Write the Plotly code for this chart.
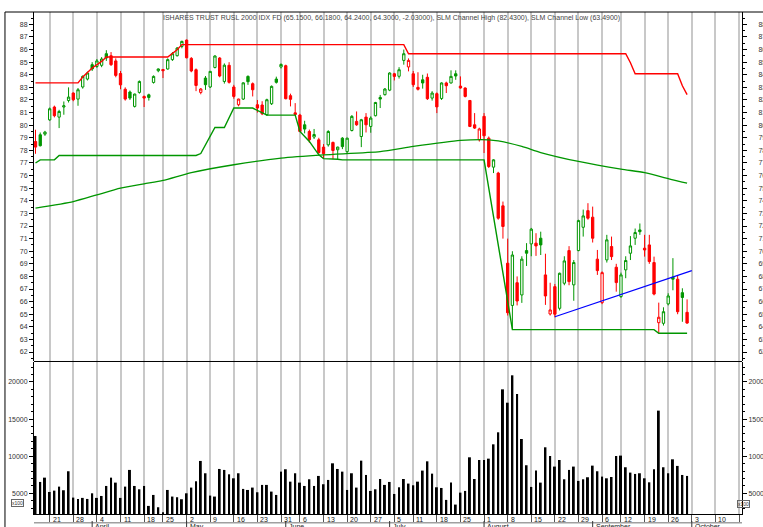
import datetime as dt
import plotly.graph_objects as go

# ---------------- data ----------------
YEAR = 2011
MAR_DAYS = [16, 17, 18, 21, 22, 23, 24, 25, 28, 29, 30, 31]
APR_DAYS = [1, 4, 5, 6, 7, 8, 11, 12, 13, 14, 15, 18, 19, 20, 21, 25, 26, 27, 28, 29]
MAY_DAYS = [2, 3, 4, 5, 6, 9, 10, 11, 12, 13, 16, 17, 18, 19, 20, 23, 24, 25, 26, 27, 31]
JUN_DAYS = [1, 2, 3, 6, 7, 8, 9, 10, 13, 14, 15, 16, 17, 20, 21, 22, 23, 24, 27, 28, 29, 30]
JUL_DAYS = [1, 5, 6, 7, 8, 11, 12, 13, 14, 15, 18, 19, 20, 21, 22, 25, 26, 27, 28, 29]
AUG_DAYS = [1, 2, 3, 4, 5, 8, 9, 10, 11, 12, 15, 16, 17, 18, 19, 22, 23, 24, 25, 26, 29, 30, 31]
SEP_DAYS = [1, 2, 6, 7, 8, 9, 12, 13, 14, 15, 16, 19, 20, 21, 22, 23, 26, 27, 28, 29, 30]
OCT_AXIS_DAYS = [3, 4, 5, 6, 7, 10, 11, 12, 13, 14, 17]
MONTH_NAMES = {4: "April", 5: "May", 6: "June", 7: "July", 8: "August", 9: "September", 10: "October"}

TITLE = ("ISHARES TRUST RUSL 2000 IDX FD (65.1500, 66.1800, 64.2400, 64.3000, -2.03000), "
         "SLM Channel High (82.4300), SLM Channel Low (63.4900)")

PREV_CLOSE = 79.00
OPEN = [78.70, 79.24, 79.29, 80.42, 81.44, 80.64, 81.44, 81.96, 82.55, 82.07,
        83.03, 83.66, 84.80, 84.66, 84.75, 85.67, 85.51, 85.10, 84.10, 82.85,
        82.63, 81.49, 82.60, 82.28, 82.41, 83.39, 84.32, 84.42, 84.46, 85.20,
        85.51, 86.25, 86.75, 85.30, 84.40, 82.60, 83.74, 83.03, 84.58, 85.33,
        83.47, 84.75, 83.03, 81.62, 82.07, 83.87, 83.29, 81.62, 81.60, 80.83,
        81.70, 83.66, 84.62, 84.72, 82.34, 80.98, 80.80, 80.03, 79.50, 79.06,
        78.84, 78.26, 78.44, 78.63, 78.05, 78.97, 77.90, 79.58, 80.30, 79.10,
        80.64, 79.90, 80.75, 82.20, 82.42, 82.78, 84.08, 83.88, 85.14, 84.62,
        84.08, 83.00, 83.60, 83.80, 82.15, 82.50, 82.12, 83.35, 83.35, 84.08,
        83.10, 82.95, 81.96, 80.03, 78.84, 80.70, 78.97, 76.67, 76.20, 73.60,
        69.05, 65.70, 67.50, 66.53, 70.05, 70.58, 70.64, 71.03, 68.12, 65.02,
        67.19, 65.47, 67.46, 70.05, 67.33, 70.05, 71.90, 73.22, 72.70, 69.37,
        65.92, 69.31, 70.37, 68.73, 66.40, 68.52, 69.84, 71.03, 71.69, 70.24,
        70.50, 69.10, 64.33, 64.28, 65.82, 67.94, 67.78, 66.71, 65.15]
HIGH = [79.64, 79.42, 79.55, 81.40, 81.55, 81.22, 81.88, 83.00, 82.60, 82.95,
        83.95, 84.25, 85.00, 85.25, 85.40, 85.95, 85.80, 85.30, 84.30, 83.00,
        82.75, 82.50, 83.55, 82.35, 82.50, 83.95, 84.50, 84.45, 85.30, 85.80,
        86.20, 86.70, 86.80, 85.40, 84.50, 82.95, 83.90, 84.30, 85.55, 85.40,
        84.90, 85.00, 83.20, 82.10, 83.40, 83.95, 83.39, 82.00, 81.90, 82.10,
        83.15, 83.85, 84.90, 84.80, 82.50, 81.75, 80.90, 80.35, 79.65, 79.70,
        79.00, 78.50, 79.60, 78.70, 78.30, 79.05, 79.00, 80.80, 81.09, 80.50,
        80.96, 80.70, 81.85, 82.40, 82.95, 84.20, 84.15, 84.60, 86.00, 85.30,
        84.30, 84.20, 84.00, 84.10, 82.70, 82.60, 83.40, 83.45, 84.35, 84.35,
        83.87, 83.00, 82.00, 80.96, 79.80, 80.96, 79.10, 77.30, 76.30, 73.94,
        71.00, 70.00, 68.00, 69.60, 70.64, 71.85, 71.43, 71.55, 69.80, 67.50,
        67.40, 68.30, 69.60, 70.40, 69.30, 72.50, 73.30, 73.81, 73.54, 70.10,
        68.40, 71.30, 71.16, 69.00, 68.30, 69.60, 71.20, 71.80, 72.20, 71.30,
        71.30, 69.57, 65.92, 65.55, 66.66, 69.45, 68.10, 67.06, 66.18]
LOW = [77.73, 78.31, 79.15, 80.35, 80.62, 79.77, 80.83, 81.80, 81.90, 81.54,
       82.90, 83.55, 84.30, 84.55, 84.60, 85.10, 84.70, 83.80, 82.85, 81.95,
       82.00, 81.40, 82.50, 81.44, 81.95, 83.30, 84.20, 83.74, 84.40, 85.10,
       85.45, 86.10, 85.30, 84.20, 82.70, 82.45, 82.80, 82.95, 84.50, 83.80,
       83.30, 83.30, 82.10, 81.50, 82.00, 83.20, 82.28, 81.00, 80.80, 80.75,
       81.60, 83.30, 84.50, 82.05, 81.49, 80.80, 79.45, 79.35, 78.60, 78.90,
       77.70, 77.40, 78.30, 77.30, 77.25, 78.10, 77.80, 79.50, 79.95, 78.26,
       79.42, 79.40, 80.70, 81.36, 82.35, 82.70, 83.55, 83.70, 84.80, 84.27,
       83.03, 82.75, 82.90, 82.00, 81.95, 80.96, 82.00, 82.55, 83.30, 83.60,
       82.90, 82.20, 79.85, 79.70, 78.70, 77.79, 76.60, 76.20, 72.50, 71.00,
       64.90, 63.80, 65.70, 65.90, 68.83, 69.60, 69.63, 69.70, 65.74, 64.90,
       64.75, 65.30, 67.30, 67.30, 66.07, 70.00, 71.16, 72.50, 70.69, 68.12,
       65.80, 69.10, 69.30, 66.79, 66.30, 67.86, 69.30, 70.50, 71.30, 69.57,
       69.00, 66.50, 63.49, 64.10, 65.70, 66.90, 65.00, 64.40, 64.24]
CLOSE = [78.26, 78.37, 79.45, 81.30, 80.75, 81.09, 81.54, 82.23, 82.02, 82.81,
         83.87, 84.14, 84.46, 85.10, 85.25, 85.33, 84.80, 83.95, 83.20, 82.07,
         82.15, 82.47, 83.47, 82.15, 82.20, 83.87, 84.46, 84.32, 85.20, 85.67,
         86.12, 86.65, 85.35, 84.30, 83.15, 82.87, 83.21, 84.27, 85.49, 83.90,
         84.76, 83.40, 82.28, 82.07, 83.36, 83.45, 82.81, 81.36, 80.90, 82.02,
         83.08, 83.40, 84.82, 82.10, 82.05, 80.85, 79.50, 79.69, 78.84, 79.26,
         77.83, 77.73, 79.50, 77.99, 78.26, 78.30, 78.97, 80.70, 80.03, 80.43,
         80.03, 80.56, 81.80, 82.07, 82.87, 84.14, 83.87, 84.40, 85.67, 85.14,
         83.21, 82.85, 83.35, 82.10, 82.55, 81.45, 83.35, 83.13, 83.87, 83.90,
         82.95, 82.28, 79.90, 79.77, 79.70, 79.16, 76.72, 77.25, 72.62, 71.96,
         65.12, 69.70, 66.05, 69.37, 69.84, 71.75, 70.42, 70.50, 66.45, 65.34,
         65.00, 68.25, 69.23, 67.59, 69.10, 72.43, 72.80, 72.62, 71.03, 68.46,
         68.30, 70.90, 69.57, 67.51, 68.12, 69.26, 70.42, 71.48, 71.55, 70.10,
         69.18, 66.60, 64.76, 65.20, 66.45, 67.78, 65.20, 66.33, 64.30]
VOLUME = [12726, 6530, 7110, 5180, 5360, 5900, 5410, 7970, 4420, 4240,
          4380, 4240, 5000, 4380, 4640, 5990, 7110, 6440, 4380, 5900,
          8150, 5990, 5540, 5990, 3300, 4780, 3120, 2440, 5450, 4560,
          4470, 4200, 5000, 5770, 6620, 9360, 7700, 4690, 4560, 8280,
          8150, 7560, 7020, 7700, 5590, 5450, 5770, 5140, 6130, 6130,
          5230, 4780, 7920, 8240, 6570, 7700, 6440, 5990, 6890, 5990,
          7340, 6220, 6800, 9040, 8280, 7920, 5450, 7700, 5770, 9400,
          7470, 5320, 5540, 6930, 6130, 6530, 4910, 5810, 6930, 6310,
          6080, 6570, 8060, 9310, 7650, 5810, 5720, 4110, 6440, 3480,
          5090, 5320, 9850, 6930, 9490, 9490, 9670, 11600, 13220, 19010,
          17210, 20900, 18380, 12320, 8780, 5860, 8060, 6440, 11200, 10030,
          8600, 9490, 6890, 8150, 8600, 6670, 6890, 7160, 8730, 7970,
          7250, 7020, 7200, 10030, 10080, 8510, 7790, 7610, 7700, 7020,
          6480, 8240, 16140, 8510, 7700, 9580, 8690, 7470, 7340]

# indicator lines (bar index, value)
CH_HIGH_IDX = [0, 9, 10, 12, 14, 15, 28, 29, 30, 31, 78, 79, 125, 126, 127, 136, 137, 138]
CH_HIGH_VAL = [83.36, 83.36, 83.82, 84.54, 85.06, 85.41, 85.41, 85.73, 85.98, 86.39,
               86.39, 85.67, 85.67, 84.95, 84.08, 84.08, 83.13, 82.43]
CH_LOW_IDX = [0, 1, 4, 5, 34, 35, 38, 40, 42, 46, 49, 55, 56, 58, 60, 61, 64, 65,
              95, 101, 131, 132, 138]
CH_LOW_VAL = [77.00, 77.25, 77.25, 77.60, 77.60, 77.75, 79.82, 79.82, 81.36, 81.36,
              80.80, 80.80, 79.50, 78.71, 77.65, 77.35, 77.30, 77.25,
              77.25, 63.78, 63.78, 63.49, 63.49]
MA_IDX = [0, 8, 13, 18, 23, 27, 33, 42, 52, 61, 73, 80, 90, 96, 98, 103, 107,
          115, 124, 129, 135, 138]
MA_VAL = [73.42, 73.94, 74.47, 75.00, 75.35, 75.62, 76.24, 76.86, 77.39, 77.65,
          77.90, 78.31, 78.79, 78.84, 78.75, 78.31, 77.83, 77.12, 76.51, 76.24,
          75.66, 75.40]
TREND_IDX = [110, 139]
TREND_VAL = [64.80, 68.46]

# ---------------- derived axis helpers ----------------
dates = []
for m, days in ((3, MAR_DAYS), (4, APR_DAYS), (5, MAY_DAYS), (6, JUN_DAYS),
                (7, JUL_DAYS), (8, AUG_DAYS), (9, SEP_DAYS)):
    dates += [dt.date(YEAR, m, d) for d in days]
axis_dates = dates + [dt.date(YEAR, 10, d) for d in OCT_AXIS_DAYS]
N = len(CLOSE)
X = list(range(N))

week_starts = [i for i in range(1, len(axis_dates))
               if axis_dates[i].isocalendar()[1] != axis_dates[i - 1].isocalendar()[1]]
month_starts = [i for i in range(1, len(axis_dates))
                if axis_dates[i].month != axis_dates[i - 1].month]

GREEN = "#009600"
RED = "#ff0000"
GRID = "#c8c8c8"
FONT = "Liberation Sans, Arial, sans-serif"
XR = [-0.32, 149.63]
PR = [61.29, 88.98]
VR = [2210, 22695]

prev = [PREV_CLOSE] + CLOSE[:-1]
up = [c >= p for c, p in zip(CLOSE, prev)]


def candles(mask, color):
    idx = [i for i in X if mask[i]]
    return go.Candlestick(
        x=idx, open=[OPEN[i] for i in idx], high=[HIGH[i] for i in idx],
        low=[LOW[i] for i in idx], close=[CLOSE[i] for i in idx],
        increasing=dict(line=dict(color=color, width=1), fillcolor="white"),
        decreasing=dict(line=dict(color=color, width=1), fillcolor=color),
        whiskerwidth=0, xaxis="x", yaxis="y", showlegend=False, hoverinfo="skip")


fig = go.Figure()
fig.add_trace(go.Scatter(x=MA_IDX, y=MA_VAL, mode="lines", line=dict(color=GREEN, width=1.3, shape="spline", smoothing=0.6),
                         xaxis="x", yaxis="y", hoverinfo="skip"))
fig.add_trace(go.Scatter(x=CH_LOW_IDX, y=CH_LOW_VAL, mode="lines", line=dict(color=GREEN, width=1.4),
                         xaxis="x", yaxis="y", hoverinfo="skip"))
fig.add_trace(go.Scatter(x=CH_HIGH_IDX, y=CH_HIGH_VAL, mode="lines", line=dict(color=RED, width=1.4),
                         xaxis="x", yaxis="y", hoverinfo="skip"))
fig.add_trace(candles(up, GREEN))
fig.add_trace(candles([not u for u in up], RED))
fig.add_trace(go.Scatter(x=TREND_IDX, y=TREND_VAL, mode="lines", line=dict(color="#0000ff", width=1.2),
                         xaxis="x", yaxis="y3", hoverinfo="skip"))
fig.add_trace(go.Bar(x=X, y=VOLUME, width=0.42, marker=dict(color="black", line=dict(width=0)),
                     xaxis="x2", yaxis="y2", hoverinfo="skip"))
fig.add_trace(go.Bar(x=X, y=VOLUME, width=0.42, marker=dict(color="black", line=dict(width=0)),
                     xaxis="x2", yaxis="y4", hoverinfo="skip", opacity=0))

tickfont = dict(family=FONT, size=7, color="#333")
yax_common = dict(tickformat="d", ticks="outside", ticklen=4, tickcolor="black", tickwidth=1,
                  tickfont=tickfont, showgrid=False, zeroline=False, showline=True,
                  linecolor="black", linewidth=1, automargin=False)

fig.update_layout(
    width=763, height=527, margin=dict(l=34, r=21, t=12, b=13, pad=0, autoexpand=False),
    paper_bgcolor="white", plot_bgcolor="white", showlegend=False, boxgap=0.3,
    xaxis=dict(domain=[0, 1], anchor="y", range=XR, tickmode="array", tickvals=week_starts,
               showticklabels=False, ticks="", showgrid=True, gridcolor=GRID, gridwidth=1.5,
               zeroline=False, showline=False, rangeslider=dict(visible=False), automargin=False),
    xaxis2=dict(domain=[0, 1], anchor="y2", matches="x", range=XR, tickmode="array",
                tickvals=week_starts, showticklabels=False, ticks="outside", ticklen=8,
                tickcolor="#555", tickwidth=1, showgrid=True, gridcolor=GRID, gridwidth=1.5,
                zeroline=False, showline=True, linecolor="black", linewidth=1, automargin=False),
    yaxis=dict(domain=[0.3048, 1], anchor="x", range=PR, tick0=0, dtick=1,
               minor=dict(dtick=0.5, ticks="outside", ticklen=2, tickcolor="black", showgrid=False),
               **yax_common),
    yaxis3=dict(overlaying="y", side="right", anchor="x", range=PR, tick0=0, dtick=1,
                ticklabelstandoff=10,
                minor=dict(dtick=0.5, ticks="outside", ticklen=2, tickcolor="black", showgrid=False),
                **yax_common),
    yaxis2=dict(domain=[0, 0.3028], anchor="x2", range=VR, tick0=0, dtick=5000,
                minor=dict(dtick=1000, ticks="outside", ticklen=2, tickcolor="black", showgrid=False),
                **yax_common),
    yaxis4=dict(overlaying="y2", side="right", anchor="x2", range=VR, tick0=0, dtick=5000,
                ticklabelstandoff=0,
                minor=dict(dtick=1000, ticks="outside", ticklen=2, tickcolor="black", showgrid=False),
                **yax_common),
)

# frame lines
shapes = [
    dict(type="line", xref="paper", yref="paper", x0=-0.041, x1=1.03, y0=1, y1=1,
         line=dict(color="black", width=1)),
    dict(type="line", xref="paper", yref="paper", x0=-0.041, x1=-0.041, y0=1, y1=-0.04,
         line=dict(color="black", width=1)),
    dict(type="line", xref="paper", yref="paper", x0=0, x1=1, y0=0.3038, y1=0.3038,
         line=dict(color="black", width=1)),
    dict(type="line", xref="paper", yref="paper", x0=0, x1=1, y0=-0.0173, y1=-0.0173,
         line=dict(color="#a0a0a0", width=1.5)),
]
for i in month_starts:
    shapes.append(dict(type="line", xref="x2", yref="paper", x0=i, x1=i, y0=-0.014, y1=-0.045,
                       line=dict(color="#333", width=1)))
fig.update_layout(shapes=shapes)

ann = [dict(text=TITLE, xref="paper", yref="paper", x=0.505, y=0.9875, showarrow=False,
            xanchor="center", yanchor="middle", font=dict(family=FONT, size=7, color="#444")),
       dict(text="x100", xref="paper", yref="paper", x=-0.0325, y=0.013, showarrow=False,
            font=dict(family=FONT, size=5, color="#333"), bordercolor="#666", borderwidth=1, borderpad=0),
       dict(text="x100", xref="paper", yref="paper", x=1.0113, y=0.011, showarrow=False,
            font=dict(family=FONT, size=5, color="#333"), bordercolor="#666", borderwidth=1, borderpad=0)]
for i in week_starts:
    if i >= 149:
        continue
    ann.append(dict(text=str(axis_dates[i].day), xref="x2", yref="paper", x=i, y=-0.0106,
                    xanchor="left", yanchor="middle", xshift=1, showarrow=False,
                    font=dict(family=FONT, size=7, color="#222")))
for i in month_starts:
    ann.append(dict(text=MONTH_NAMES[axis_dates[i].month], xref="x2", yref="paper", x=i, y=-0.0165,
                    xanchor="left", yanchor="top", xshift=2, showarrow=False, borderpad=0,
                    font=dict(family=FONT, size=7, color="#222")))
fig.update_layout(annotations=ann)

fig.write_html("out.html", config={"displayModeBar": False},
               post_script="document.body.style.margin='0';")
